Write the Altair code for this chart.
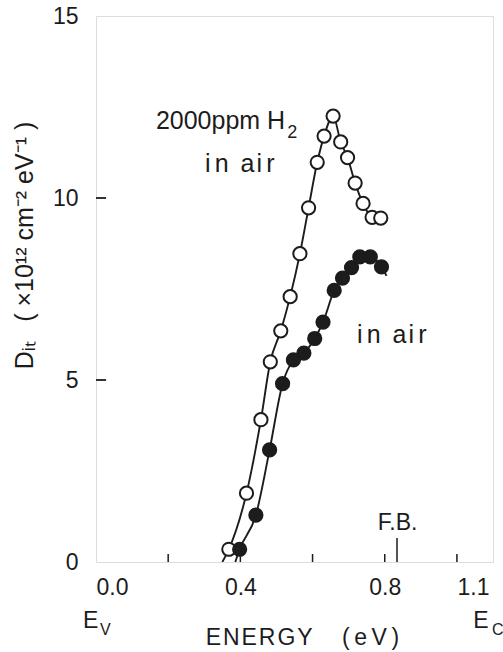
import altair as alt
import pandas as pd

# ---- data ----
# open circles: 2000 ppm H2 in air
open_x = [0.368, 0.417, 0.457, 0.483, 0.512, 0.538, 0.565, 0.589, 0.613, 0.632,
          0.657, 0.678, 0.697, 0.718, 0.740, 0.765, 0.789]
open_y = [0.35, 1.89, 3.91, 5.50, 6.35, 7.29, 8.47, 9.73, 10.98, 11.70,
          12.25, 11.54, 11.11, 10.41, 9.85, 9.47, 9.45]
# filled circles: in air
filled_x = [0.398, 0.443, 0.481, 0.517, 0.547, 0.576, 0.606, 0.629, 0.660, 0.683,
            0.708, 0.731, 0.760, 0.791]
filled_y = [0.35, 1.29, 3.08, 4.90, 5.55, 5.74, 6.14, 6.59, 7.46, 7.80,
            8.09, 8.38, 8.38, 8.11]
# curve ends that carry no marker
open_line_start = [0.350, 0.0]
filled_line_start = [0.386, 0.0]
filled_line_end = [0.805, 7.86]

x_label_values = [0.0, 0.4, 0.8, 1.1]
y_label_values = [0, 5, 10, 15]
x_minor_ticks = [0.2, 0.4, 0.6, 0.8, 1.0]
y_minor_ticks = [5, 10]
fb_energy = 0.834

IN_AIR = "i\u2006n\u2009 a\u200ai\u2006r"
annot_text = ["2000ppm H", IN_AIR, IN_AIR]
annot_x = [0.166, 0.302, 0.723]
annot_y = [11.90, 10.71, 6.02]
sub_text = ["2"]
sub_x = [0.530]
sub_y = [11.65]
fb_text = ["F.B."]
fb_text_x = [0.781]
fb_text_y = [0.88]

band_text = ["E", "E"]
band_x = [-0.036, 1.045]
band_y = [-1.81, -1.81]
band_sub_text = ["V", "C"]
band_sub_x = [0.011, 1.097]
band_sub_y = [-2.0, -2.0]

FONT = "Liberation Sans"
INK = "#1c1c1c"

# ---- tables ----
pts = pd.DataFrame({
    "energy": open_x + filled_x,
    "dit": open_y + filled_y,
    "series": ["H2"] * len(open_x) + ["air"] * len(filled_x),
})
lines = pd.DataFrame({
    "energy": [open_line_start[0]] + open_x + [filled_line_start[0]] + filled_x + [filled_line_end[0]],
    "dit": [open_line_start[1]] + open_y + [filled_line_start[1]] + filled_y + [filled_line_end[1]],
    "series": ["H2"] * (len(open_x) + 1) + ["air"] * (len(filled_x) + 2),
})
xt = pd.DataFrame({"energy": x_minor_ticks, "dit": [0] * len(x_minor_ticks), "y1": [0.22] * len(x_minor_ticks)})
yt = pd.DataFrame({"dit": y_minor_ticks, "energy": [0] * len(y_minor_ticks), "x1": [0.028] * len(y_minor_ticks)})
fb = pd.DataFrame({"energy": [fb_energy], "dit": [0], "y1": [0.66]})
ann = pd.DataFrame({"energy": annot_x, "dit": annot_y, "t": annot_text})
sub = pd.DataFrame({"energy": sub_x, "dit": sub_y, "t": sub_text})
fbt = pd.DataFrame({"energy": fb_text_x, "dit": fb_text_y, "t": fb_text})
band = pd.DataFrame({"energy": band_x, "dit": band_y, "t": band_text})
band_sub = pd.DataFrame({"energy": band_sub_x, "dit": band_sub_y, "t": band_sub_text})

xs = alt.Scale(domain=[0, 1.1], nice=False, zero=False)
ys = alt.Scale(domain=[0, 15], nice=False, zero=False)

x_axis = alt.Axis(
    values=x_label_values, format=".1f", ticks=False, domain=False, grid=False,
    labelFont=FONT, labelFontSize=23, labelColor=INK, labelPadding=14,
    labelOffset={"condition": {"test": "datum.value > 1.05", "value": -4}, "value": 0},
    title="E\u200aN\u200aE\u200aR\u200aG\u200aY\u2003 (\u2009e\u2009V\u2009)",
    titleFont=FONT, titleFontSize=23, titleFontWeight="normal", titleColor=INK,
    titleX=206, titleY=75, titleBaseline="middle", titleAlign="center",
)
y_axis = alt.Axis(
    values=y_label_values, ticks=False, domain=False, grid=False,
    labelFont=FONT, labelFontSize=23, labelColor=INK, labelPadding=18,
    title="D\u1d62\u209c\u2002 ( \u00d710\u00b9\u00b2 cm\u207b\u00b2 eV\u207b\u00b9 )",
    titleFont=FONT, titleFontSize=25, titleFontWeight="normal", titleColor=INK,
    titleAngle=270, titleX=-72, titleY=229, titleBaseline="middle", titleAlign="center",
)

X = alt.X("energy:Q", scale=xs, axis=x_axis)
Y = alt.Y("dit:Q", scale=ys, axis=y_axis)

line_layer = alt.Chart(lines).mark_line(
    color=INK, strokeWidth=1.9, interpolate="monotone", clip=True
).encode(x=X, y=Y, detail="series:N", order="energy:Q")

point_layer = alt.Chart(pts).mark_point(
    shape="circle", size=175, strokeWidth=2, stroke=INK, opacity=1, filled=False
).encode(
    x=X, y=Y,
    fill=alt.Fill("series:N", scale=alt.Scale(domain=["H2", "air"], range=["white", INK]), legend=None),
)

xtick_layer = alt.Chart(xt).mark_rule(color=INK, strokeWidth=1.5).encode(x=X, y=Y, y2="y1:Q")
ytick_layer = alt.Chart(yt).mark_rule(color=INK, strokeWidth=1.8).encode(y=Y, x=X, x2="x1:Q")
fb_layer = alt.Chart(fb).mark_rule(color=INK, strokeWidth=1.5).encode(x=X, y=Y, y2="y1:Q")


def text_layer(df, size):
    return alt.Chart(df).mark_text(
        font=FONT, fontSize=size, color=INK, align="left", baseline="alphabetic"
    ).encode(x=X, y=Y, text="t:N")


chart = alt.layer(
    line_layer, point_layer, xtick_layer, ytick_layer, fb_layer,
    text_layer(ann, 25), text_layer(sub, 18), text_layer(fbt, 23),
    text_layer(band, 23), text_layer(band_sub, 16),
).properties(
    width=397, height=546,
    autosize=alt.AutoSizeParams(type="none"),
    padding={"left": 96, "top": 16, "right": 10, "bottom": 90},
).configure_view(
    stroke=INK, strokeWidth=2
).configure(
    font=FONT, background="white"
)

chart.save("out.html", embed_options={"renderer": "svg", "actions": False})
